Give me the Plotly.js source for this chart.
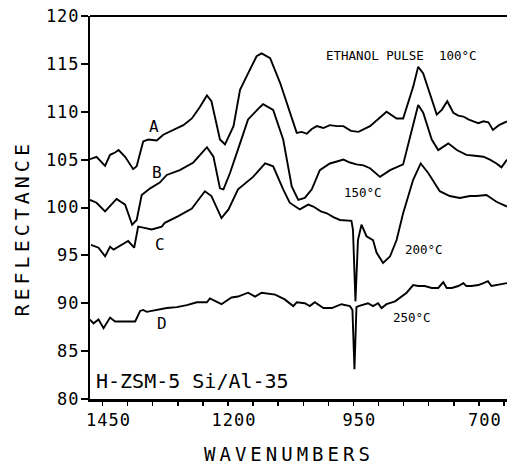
<!DOCTYPE html>
<html><head><meta charset="utf-8">
<script src="https://cdn.plot.ly/plotly-3.0.1.min.js"></script>
<style>
html,body{margin:0;padding:0;background:#fff;}
#chart{width:507px;height:467px;}
.xtick text,.ytick text{letter-spacing:1px;}
</style></head><body><div id="chart"></div>
<script>
// Curve A (ethanol pulse, 100 °C)
const waveA = [1475,1462,1445,1435,1425,1418,1405,1389,1382,1369,1359,1342,1329,1309,1289,1272,1256,1242,1233,1216,1206,1189,1176,1160,1143,1133,1116,1096,1077,1063,1053,1043,1033,1023,1010,997,983,970,955,940,917,900,884,864,851,831,821,811,794,784,774,763,751,741,731,721,711,701,691,681,672,660,644];
const reflA = [105.05,105.3,104.35,105.5,105.74,106.0,105.3,104.0,104.3,106.9,107.1,107.0,107.6,108.1,108.6,109.3,110.5,111.7,111.1,107.1,106.6,108.5,112.3,114.0,115.8,116.1,115.6,113.0,109.9,107.8,107.9,107.7,108.2,108.5,108.3,108.6,108.5,108.5,108.0,107.9,108.5,109.3,110.0,109.3,109.3,112.6,114.7,114.0,111.2,109.7,110.2,111.1,109.9,109.6,109.5,109.2,109.0,108.8,109.0,108.9,108.1,108.6,109.0];
// Curve B (150 °C)
const waveB = [1475,1462,1445,1432,1422,1405,1391,1382,1372,1355,1336,1322,1296,1269,1242,1229,1216,1209,1196,1176,1160,1136,1130,1110,1090,1073,1060,1047,1033,1017,997,983,970,957,944,930,917,897,877,851,838,821,811,794,781,761,744,725,708,691,678,665,655,644];
const reflB = [100.8,100.5,99.6,100.4,100.9,100.3,98.2,98.7,101.3,102.0,102.6,103.4,103.9,104.7,106.3,105.3,102.0,101.9,103.6,106.7,109.2,110.5,110.8,110.2,107.1,102.2,100.8,101.0,101.9,103.9,104.6,104.8,105.0,104.7,104.5,104.4,104.1,103.2,103.9,104.5,107.1,110.7,109.9,107.1,106.0,106.7,106.0,105.5,105.4,105.3,105.0,104.6,104.2,105.0];
// Curve C (200 °C)
const waveC = [1473,1458,1445,1435,1428,1418,1399,1387,1379,1369,1352,1332,1326,1299,1272,1246,1233,1213,1199,1180,1150,1126,1110,1090,1077,1057,1040,1030,1015,1003,990,977,954,951,946,941,934,924,911,904,891,877,864,851,831,816,801,778,758,738,718,705,685,665,644];
const reflC = [96.1,95.8,94.9,95.9,95.6,95.9,96.5,95.8,98.0,97.9,97.7,98.0,98.4,99.1,99.9,101.7,101.2,98.9,99.8,101.9,103.2,104.6,104.3,101.9,100.5,99.8,100.3,100.1,99.6,99.4,99.0,98.7,98.6,97.7,90.2,96.6,98.2,97.0,96.6,95.3,94.2,94.9,96.6,99.4,102.9,104.6,103.6,101.7,101.2,101.0,101.2,101.2,101.3,100.6,100.1];
// Curve D (250 °C)
const waveD = [1475,1468,1458,1448,1435,1425,1405,1385,1375,1369,1362,1352,1342,1322,1302,1282,1262,1242,1236,1219,1213,1193,1180,1160,1146,1133,1106,1087,1070,1063,1047,1037,1027,1010,993,974,957,952,948,944,940,921,911,901,894,884,867,844,831,821,808,794,781,771,764,754,741,731,725,715,701,691,682,675,662,644];
const reflD = [88.3,87.9,88.3,87.4,88.5,88.1,88.1,88.1,89.2,89.3,89.1,89.2,89.3,89.5,89.6,89.8,90.1,90.1,90.5,90.0,89.9,90.6,90.7,91.1,90.7,91.1,90.9,90.4,89.7,90.1,90.0,89.7,90.1,89.5,89.5,89.9,89.7,89.3,83.1,89.6,89.7,90.0,89.7,90.0,89.5,89.9,90.2,91.1,91.9,91.8,91.8,91.6,91.6,92.2,91.6,91.6,91.8,92.1,91.8,91.8,91.9,92.1,92.3,91.8,91.9,92.1];

const xTickVals = [1450,1200,950,700];
const xTickText = ['1450','1200','950','700'];
const yTickVals = [80,85,90,95,100,105,110,115,120];

const lineStyle = {color:'#000', width:1.9};
const traces = [
  {x:waveA, y:reflA, name:'A'},
  {x:waveB, y:reflB, name:'B'},
  {x:waveC, y:reflC, name:'C'},
  {x:waveD, y:reflD, name:'D'}
].map(t => Object.assign(t, {type:'scatter', mode:'lines', line:lineStyle, showlegend:false, hoverinfo:'skip'}));

const mono = 'DejaVu Sans Mono';
const small = {family:mono, size:12.5, color:'#000'};
const layout = {
  width:507, height:467,
  margin:{l:90, r:0, t:16, b:67.5, pad:0},
  paper_bgcolor:'#fff', plot_bgcolor:'#fff',
  showlegend:false,
  xaxis:{
    range:[1475,644], tickmode:'array', tickvals:xTickVals, ticktext:xTickText,
    ticks:'outside', ticklen:4, tickwidth:1.5, tickcolor:'#000',
    minor:{tickmode:'linear', tick0:700, dtick:50, ticks:'outside', ticklen:4, tickwidth:1.5, tickcolor:'#000'},
    showline:true, linewidth:3, linecolor:'#000', showgrid:false, zeroline:false,
    tickfont:{family:mono, size:17, color:'#000'}, ticklabelshift:-6
  },
  yaxis:{
    range:[80,120], tickmode:'array', tickvals:yTickVals,
    ticks:'outside', ticklen:7, tickwidth:2, tickcolor:'#000',
    showline:true, linewidth:2, linecolor:'#000', showgrid:false, zeroline:false,
    tickfont:{family:mono, size:17, color:'#000'}, ticklabelstandoff:-2
  },
  shapes:[{type:'line', xref:'paper', yref:'paper', x0:0, x1:1, y0:1, y1:1, line:{color:'#000', width:2}}],
  annotations:[
    {text:'REFLECTANCE', xref:'paper', yref:'paper', x:0, y:0.5, xshift:-69, yshift:-21, textangle:-90, showarrow:false, xanchor:'center', yanchor:'middle', font:{family:mono, size:20, color:'#000'}},
    {text:'WAVENUMBERS', xref:'paper', yref:'paper', x:0.5, y:0, xshift:-9.5, yshift:-55, showarrow:false, xanchor:'center', yanchor:'middle', borderpad:0, font:{family:mono, size:19, color:'#000'}},
    {text:'A', x:1347, y:108.5, showarrow:false, font:{family:mono, size:16, color:'#000'}},
    {text:'B', x:1341, y:103.7, showarrow:false, font:{family:mono, size:16, color:'#000'}},
    {text:'C', x:1335, y:96.1, showarrow:false, font:{family:mono, size:16, color:'#000'}},
    {text:'D', x:1331, y:87.9, showarrow:false, font:{family:mono, size:16, color:'#000'}},
    {text:'ETHANOL PULSE  100°C', x:854, y:115.9, showarrow:false, font:small},
    {text:'150°C', x:930, y:101.6, showarrow:false, font:small},
    {text:'200°C', x:810, y:95.6, showarrow:false, font:small},
    {text:'250°C', x:834, y:88.5, showarrow:false, font:small},
    {text:'H-ZSM-5 Si/Al-35', x:1271, y:81.9, showarrow:false, font:{family:mono, size:20, color:'#000'}}
  ]
};

Plotly.newPlot('chart', traces, layout, {staticPlot:true, displayModeBar:false}).then(() => {
  const anns = document.querySelectorAll('.annotation-text');
  [0,1].forEach(i => { if (anns[i]) anns[i].style.letterSpacing = '4px'; });
});
</script></body></html>
